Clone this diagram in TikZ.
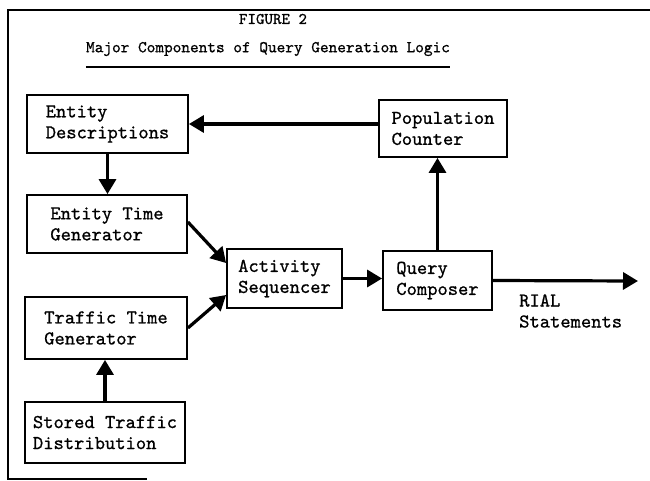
\documentclass[tikz,border=0pt]{standalone}
\usepackage{fontspec}
\usetikzlibrary{arrows.meta}
% heavier typewriter face
\newfontfamily\tw{lmmono10-regular.otf}[FakeBold=0.8]
\begin{document}
\begin{tikzpicture}[x=1pt,y=-1pt,
  box/.style={draw,line width=1.8pt,inner sep=0pt,align=left,
    font=\tw\fontsize{19.6}{21}\selectfont},
  flow/.style={line width=3.2pt,-{Triangle[length=15pt,width=17pt]}},
  frame/.style={line width=1.6pt},
  label/.style={inner sep=0pt,align=left,font=\tw\fontsize{19.6}{21}\selectfont}]
\useasboundingbox (0,0) rectangle (650,480);

% outer frame
\coordinate (ftl) at (8,10);
\coordinate (ftr) at (650,10);
\coordinate (fbl) at (8,479);
\coordinate (fbr) at (147,479);
\draw[frame] (ftr) -- (ftl) -- (fbl) -- (fbr);

% heading
\node[inner sep=0pt,font=\tw\fontsize{16.2}{18}\selectfont] (fig) at (273,19) {FIGURE 2};
\node[inner sep=0pt,font=\tw\fontsize{16.5}{18}\selectfont] (title) at (268,49)
  {Major Components of Query Generation Logic};
\draw[line width=1.6pt] ([yshift=-11pt]title.south west) -- ([yshift=-11pt]title.south east);

% blocks
\node[box,minimum width=161pt,minimum height=58pt] (ed)  at (107.5,124)  {Entity\\Descriptions};
\node[box,minimum width=160pt,minimum height=58pt] (etg) at (107,224)    {Entity Time\\Generator};
\node[box,minimum width=162pt,minimum height=62pt] (ttg) at (106,328)    {Traffic Time\\Generator};
\node[box,minimum width=160pt,minimum height=61pt] (std) at (105,432.5)  {Stored Traffic\\Distribution};
\node[box,minimum width=115pt,minimum height=59pt] (as)  at (284.5,278.5){Activity\\Sequencer};
\node[box,minimum width=128pt,minimum height=57pt] (pc)  at (443,128.5)  {Population\\Counter};
\node[box,minimum width=109pt,minimum height=59pt] (qc)  at (437.5,280.5){Query\\Composer};

\node[label,anchor=west] (rial) at (519,311) {RIAL\\Statements};
\coordinate (out) at (638,281);

% connectors
\draw[flow] (pc.west |- ed.east) -- (ed.east);
\draw[flow] (ed.south) -- (ed.south |- etg.north);
\draw[flow] (std.north) -- (std.north |- ttg.south);
\draw[flow] ([yshift=2pt]etg.east) -- ([yshift=15.5pt]as.west);
\draw[flow] (ttg.east) -- ([yshift=-16.5pt]as.west);
\draw[flow] (as.east) -- (as.east -| qc.west);
\draw[flow] (qc.north) -- (qc.north |- pc.south);
\draw[flow] (qc.east) -- (out);
\end{tikzpicture}
\end{document}
